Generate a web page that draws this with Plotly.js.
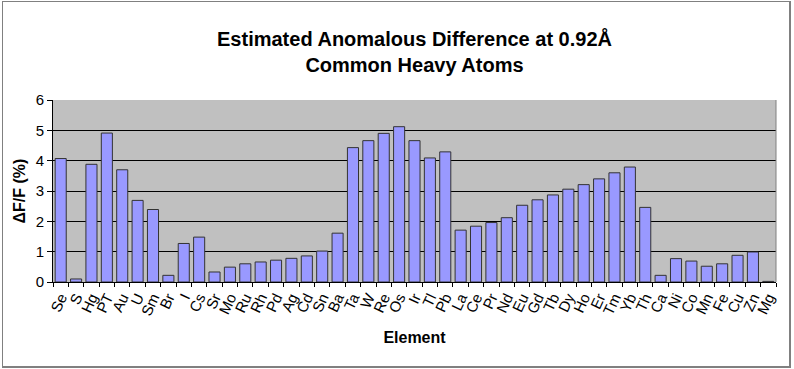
<!DOCTYPE html>
<html>
<head>
<meta charset="utf-8">
<script src="https://cdn.plot.ly/plotly-3.0.1.min.js"></script>
<style>
html,body{margin:0;padding:0;background:#fff;}
#wrap{position:relative;width:794px;height:369px;}
#chart{width:794px;height:369px;}
#frame{position:absolute;left:2px;top:1px;width:786px;height:364px;border:1px solid #808080;border-right:2px solid #808080;border-bottom:2px solid #808080;pointer-events:none;}
</style>
</head>
<body>
<div id="wrap"><div id="chart"></div><div id="frame"></div></div>
<script>
var elements = ["Se","S","Hg","PT","Au","U","Sm","Br","I","Cs","Sr","Mo","Ru","Rh","Pd","Ag","Cd","Sn","Ba","Ta","W","Re","Os","Ir","Tl","Pb","La","Ce","Pr","Nd","Eu","Gd","Tb","Dy","Ho","Er","Tm","Yb","Th","Ca","Ni","Co","Mn","Fe","Cu","Zn","Mg"];
var deltaFF = [4.07,0.10,3.88,4.91,3.70,2.69,2.39,0.22,1.27,1.48,0.33,0.49,0.60,0.66,0.72,0.78,0.86,1.02,1.61,4.43,4.66,4.90,5.12,4.66,4.09,4.29,1.71,1.84,1.96,2.12,2.53,2.71,2.87,3.06,3.21,3.40,3.60,3.79,2.46,0.22,0.77,0.69,0.52,0.60,0.88,0.99,0.02];
var titleText = "Estimated Anomalous Difference at 0.92Å<br>Common Heavy Atoms";

var trace = {
  type: "bar",
  x: elements,
  y: deltaFF,
  marker: {color: "#9999FF", line: {color: "#333333", width: 1}},
  hoverinfo: "x+y"
};

var layout = {
  width: 794, height: 369,
  margin: {l: 53, r: 18, t: 100, b: 87},
  paper_bgcolor: "#ffffff",
  plot_bgcolor: "#C0C0C0",
  bargap: 0.28,
  showlegend: false,
  font: {family: "Liberation Sans, Arial, sans-serif", color: "#000"},
  title: {
    text: "<b>" + titleText + "</b>",
    font: {size: 20, family: "Liberation Sans, Arial, sans-serif", color: "#000"},
    x: 0.5, xref: "paper", xanchor: "center",
    y: 0.875, yref: "container", yanchor: "top"
  },
  xaxis: {
    type: "category",
    tickmode: "array",
    tickvals: elements,
    ticktext: elements,
    tickson: "boundaries",
    ticks: "outside", ticklen: 4, tickcolor: "#000", tickwidth: 1,
    tickangle: -65,
    tickfont: {size: 15},
    showline: true, linecolor: "#000", linewidth: 1,
    showgrid: false,
    automargin: false,
    title: {text: "<b>Element</b>", font: {size: 16}, standoff: 14}
  },
  yaxis: {
    range: [0, 6],
    dtick: 1,
    ticks: "outside", ticklen: 5, tickcolor: "#000",
    tickfont: {size: 15},
    showline: true, linecolor: "#000", linewidth: 1,
    gridcolor: "#000000", gridwidth: 1,
    zeroline: false,
    automargin: false,
    title: {text: "<b>ΔF/F (%)</b>", font: {size: 16}, standoff: 6}
  },
  shapes: [
    {type: "line", xref: "paper", yref: "paper", x0: 1, x1: 1, y0: 0, y1: 1, line: {color: "#808080", width: 1}}
  ]
};

Plotly.newPlot("chart", [trace], layout, {displayModeBar: false, staticPlot: true});
</script>
</body>
</html>
